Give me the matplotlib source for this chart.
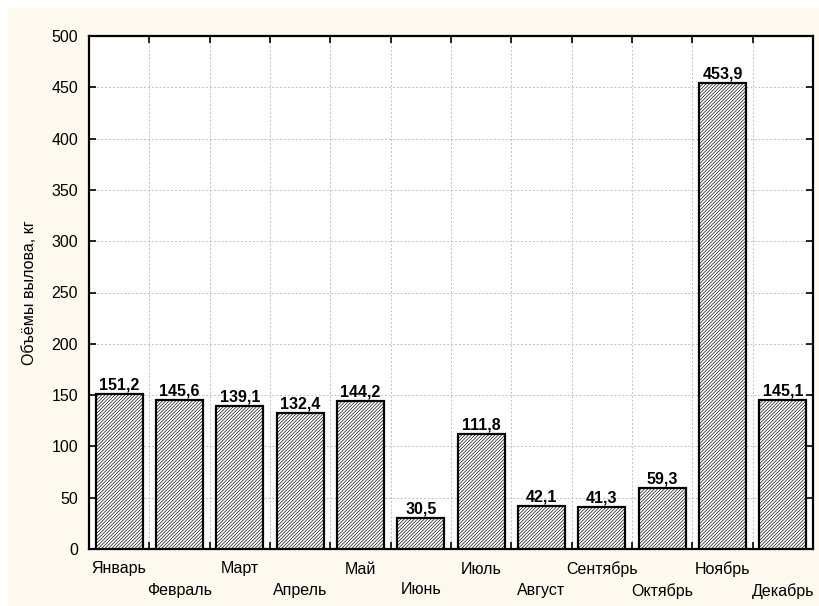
import matplotlib
matplotlib.use("Agg")
import matplotlib.pyplot as plt
from matplotlib.patches import Rectangle
from matplotlib.ticker import MultipleLocator, FixedLocator

plt.rcParams['font.family'] = ['Liberation Sans', 'DejaVu Sans']
plt.rcParams['hatch.linewidth'] = 0.45

months = ["Январь", "Февраль", "Март", "Апрель", "Май", "Июнь",
          "Июль", "Август", "Сентябрь", "Октябрь", "Ноябрь", "Декабрь"]
values = [151.2, 145.6, 139.1, 132.4, 144.2, 30.5,
          111.8, 42.1, 41.3, 59.3, 453.9, 145.1]
ylabel = "Объёмы вылова, кг"

fig = plt.figure(figsize=(8.19, 6.06), dpi=100, facecolor='white')
bg = Rectangle((8 / 819, 0), 1 - 8 / 819, 1 - 8 / 606, transform=fig.transFigure,
               facecolor='#fdf9ef', edgecolor='none', zorder=-10)
fig.patches.append(bg)

ax = fig.add_axes([89 / 819, 1 - 549 / 606, (813 - 89) / 819, (549 - 36) / 606])
ax.set_facecolor('white')

x = list(range(len(months)))
bars = ax.bar(x, values, width=0.78, facecolor='white', edgecolor='black',
              linewidth=1.6, hatch='/' * 10, zorder=3)

for xi, v in zip(x, values):
    ax.text(xi, v + 1.5, f"{v:.1f}".replace('.', ','), ha='center', va='bottom',
            fontsize=11.5, fontweight='bold', zorder=4)

ax.set_xlim(-0.5, len(months) - 0.5)
ax.set_ylim(0, 500)
ax.yaxis.set_major_locator(MultipleLocator(50))

labels = [m if i % 2 == 0 else "\n" + m for i, m in enumerate(months)]
ax.set_xticks(x)
ax.set_xticklabels(labels, fontsize=11.5, linespacing=1.5)
ax.tick_params(axis='x', which='major', length=0, pad=9)
ax.xaxis.set_minor_locator(FixedLocator([i + 0.5 for i in range(len(months) - 1)]))
ax.tick_params(axis='x', which='minor', direction='in', length=5, width=1.2,
               top=True, bottom=True)
ax.tick_params(axis='y', which='major', direction='in', length=5, width=1.2,
               left=True, right=True, labelsize=11.5, pad=8)

ax.grid(True, axis='y', which='major', linestyle=(0, (2, 2)), color='#c0c0c0', linewidth=0.7, zorder=0)
ax.grid(True, axis='x', which='minor', linestyle=(0, (2, 2)), color='#c0c0c0', linewidth=0.7, zorder=0)

for s in ax.spines.values():
    s.set_linewidth(1.6)

ax.set_ylabel(ylabel, fontsize=11.5, labelpad=10)

fig.savefig("out.png", dpi=100, facecolor=fig.get_facecolor())
